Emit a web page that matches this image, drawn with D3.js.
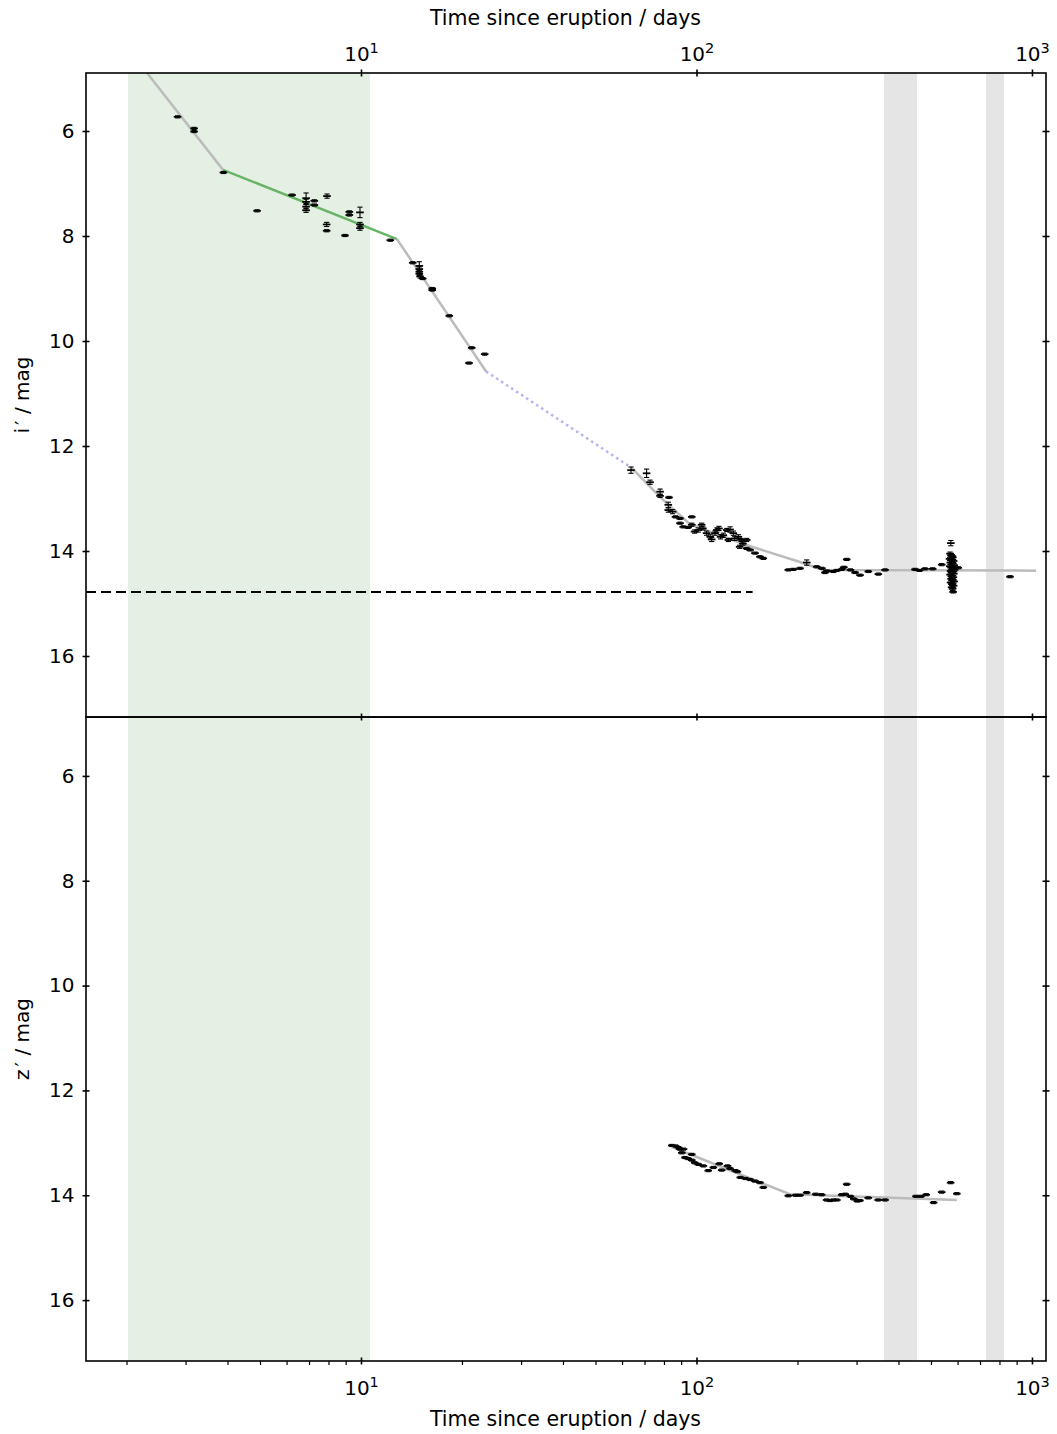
<!DOCTYPE html>
<html>
<head>
<meta charset="utf-8">
<script src="https://cdn.jsdelivr.net/npm/d3@7"></script>
<style>
  html, body { margin: 0; padding: 0; background: #fff; }
  svg { display: block; font-family: "DejaVu Sans", sans-serif; }
</style>
</head>
<body>
<svg id="chart" width="1057" height="1434"></svg>
<script>
// ---- i' band photometry: time (days), magnitude, 1-sigma error ----
const iTime = [
  2.84, 3.18, 3.18, 3.89, 4.90, 6.23, 6.86, 6.86, 6.86, 6.86, 7.26, 7.26, 7.92, 7.90, 7.90,
  8.96, 9.23, 9.23, 9.93, 9.93, 9.93, 12.23, 14.26, 14.92, 14.92, 14.92, 14.92, 15.00, 15.27,
  16.31, 16.31, 18.33, 21.38, 23.37, 20.99,
  63.8, 71.0, 72.7, 77.9, 77.9, 82.8, 82.4, 82.4, 84.9, 86.6, 89.3, 89.3, 91.3, 94.4, 96.8,
  96.8, 98.7, 101.2, 103.6, 104.5, 107.2, 109.9, 111.0, 113.5, 115.0, 116.7, 118.0, 120.2,
  123.1, 124.5, 125.9, 128.8, 130.0, 133.3, 134.5, 135.9, 137.5, 141.1, 141.1, 144.4, 149.4,
  154.6, 158.2, 187.8, 194.3, 203.5, 213.1, 228.2, 236.5, 241.5, 245.0, 255.7, 262.0, 270.9,
  275.0, 280.4, 287.6, 296.9, 307.2, 325.2, 348.4, 364.7, 448.0, 462.0, 479.8, 505.8, 538.0,
  573, 570, 574, 578, 581, 568, 576, 584, 571, 579, 586, 569, 575, 582, 588, 572, 578, 585,
  570, 576, 583, 574, 580, 586, 572, 578, 584, 576, 580, 582,
  603, 860
];
const iMag = [
  5.73, 5.95, 6.01, 6.79, 7.52, 7.22, 7.28, 7.35, 7.44, 7.51, 7.33, 7.41, 7.24, 7.78, 7.90,
  7.99, 7.54, 7.60, 7.55, 7.78, 7.85, 8.08, 8.51, 8.57, 8.63, 8.68, 8.72, 8.77, 8.81,
  9.00, 9.03, 9.52, 10.13, 10.25, 10.42,
  12.46, 12.52, 12.69, 12.87, 12.95, 12.98, 13.12, 13.22, 13.25, 13.35, 13.38, 13.47, 13.54, 13.55, 13.35,
  13.50, 13.63, 13.60, 13.50, 13.57, 13.66, 13.73, 13.78, 13.66, 13.60, 13.57, 13.73, 13.70,
  13.60, 13.79, 13.59, 13.66, 13.76, 13.73, 13.92, 13.79, 13.86, 13.79, 13.95, 13.98, 14.04,
  14.11, 14.14, 14.36, 14.35, 14.33, 14.22, 14.30, 14.33, 14.41, 14.38, 14.39, 14.37, 14.35,
  14.31, 14.16, 14.36, 14.41, 14.46, 14.39, 14.44, 14.36, 14.35, 14.37, 14.34, 14.34, 14.26,
  13.85, 14.05, 14.08, 14.10, 14.12, 14.15, 14.17, 14.19, 14.22, 14.24, 14.27, 14.29, 14.31, 14.33, 14.36, 14.38, 14.40, 14.43,
  14.45, 14.48, 14.50, 14.53, 14.55, 14.58, 14.60, 14.63, 14.66, 14.69, 14.72, 14.78,
  14.32, 14.49
];
const iErr = [
  0.02, 0.02, 0.02, 0.02, 0.02, 0.02, 0.10, 0.05, 0.04, 0.04, 0.02, 0.02, 0.04, 0.04, 0.02,
  0.02, 0.02, 0.02, 0.10, 0.04, 0.04, 0.02, 0.02, 0.08, 0.04, 0.04, 0.03, 0.03, 0.02,
  0.02, 0.02, 0.02, 0.02, 0.02, 0.02,
  0.06, 0.08, 0.04, 0.05, 0.03, 0.02, 0.05, 0.04, 0.04, 0.02, 0.02, 0.02, 0.02, 0.02, 0.02,
  0.03, 0.03, 0.04, 0.03, 0.03, 0.04, 0.04, 0.04, 0.04, 0.04, 0.04, 0.04, 0.04,
  0.03, 0.03, 0.05, 0.04, 0.04, 0.04, 0.03, 0.03, 0.03, 0.03, 0.02, 0.02, 0.02,
  0.02, 0.02, 0.02, 0.02, 0.02, 0.05, 0.02, 0.02, 0.02, 0.02, 0.02, 0.02, 0.02,
  0.02, 0.02, 0.02, 0.02, 0.02, 0.02, 0.02, 0.02, 0.02, 0.02, 0.02, 0.02, 0.02,
  0.05, 0.03, 0.03, 0.03, 0.03, 0.03, 0.03, 0.03, 0.03, 0.03, 0.03, 0.03, 0.03, 0.03, 0.03, 0.03, 0.03, 0.03,
  0.03, 0.03, 0.03, 0.03, 0.03, 0.03, 0.03, 0.03, 0.03, 0.03, 0.03, 0.02,
  0.02, 0.02
];

// ---- z' band photometry ----
const zTime = [
  84.4, 86.6, 88.3, 89.3, 90.4, 91.5, 92.4, 94.4, 96.8, 96.8, 98.8, 101.2, 104.8, 108.4, 112.3,
  116.9, 118.9, 123.7, 125.9, 130.5, 132.4, 135.1, 140.0, 144.4, 149.4, 154.6, 158.2,
  187.8, 197.5, 203.5, 213.0, 226.7, 236.0, 244.3, 250.0, 255.7, 262.0, 270.9, 277.5, 280.4,
  287.6, 294.4, 301.6, 307.0, 325.0, 348.0, 364.7, 451.0, 467.0, 484.0, 509.0, 538.0, 572.0, 597.0
];
const zMag = [
  13.05, 13.06, 13.09, 13.12, 13.19, 13.12, 13.28, 13.30, 13.22, 13.33, 13.38, 13.41, 13.44, 13.53, 13.47,
  13.40, 13.52, 13.44, 13.49, 13.53, 13.55, 13.66, 13.68, 13.70, 13.73, 13.76, 13.85,
  14.01, 14.00, 14.00, 13.95, 13.98, 13.99, 14.09, 14.10, 14.09, 14.09, 13.99, 13.98, 13.79,
  14.02, 14.07, 14.11, 14.10, 14.05, 14.09, 14.09, 14.02, 14.02, 13.99, 14.14, 13.94, 13.76, 13.97
];
const zErr = zMag.map(() => 0.02);

// ---- Piecewise model light curves (time in days, magnitude) ----
const iEarlyTime = [2.02, 3.88];          const iEarlyMag = [4.43, 6.74];
const iPlateauTime = [3.88, 12.8];        const iPlateauMag = [6.74, 8.06];
const iDeclineTime = [12.8, 23.6];        const iDeclineMag = [8.06, 10.58];
const iGapTime = [23.6, 64.2];            const iGapMag = [10.58, 12.42];
const iLateTime = [64.2, 77.8, 95.6, 141.4, 203.5, 238.2, 1028];
const iLateMag = [12.42, 12.97, 13.49, 13.89, 14.21, 14.36, 14.375];
const zLateTime = [84.4, 190, 597];       const zLateMag = [13.08, 13.98, 14.09];

// Shaded intervals (days) and reference level
const plateauSpan = [2.02, 10.64];
const gapSpans = [[362, 454], [729, 825]];
const quiescentLevel = 14.78;
const quiescentEnd = 147;

// x tick values
const xMajor = [10, 100, 1000];
const xMinor = [2,3,4,5,6,7,8,9, 20,30,40,50,60,70,80,90, 200,300,400,500,600,700,800,900];
const yTicks = [6, 8, 10, 12, 14, 16];

// ---- Layout ----
const L = 86, R = 1046;
const topPanel = { y0: 73, y1: 717 };
const botPanel = { y0: 717, y1: 1361 };
const FONT = 20;

const svg = d3.select("#chart");
const x = d3.scaleLog().domain([1.5147, 1101]).range([L, R]);
const yTop = d3.scaleLinear().domain([4.895, 17.162]).range([topPanel.y0, topPanel.y1]);
const yBot = d3.scaleLinear().domain([4.876, 17.162]).range([botPanel.y0, botPanel.y1]);

const defs = svg.append("defs");
function clip(id, p) {
  defs.append("clipPath").attr("id", id)
    .append("rect").attr("x", L).attr("y", p.y0).attr("width", R - L).attr("height", p.y1 - p.y0);
}
clip("clipTop", topPanel);
clip("clipBot", botPanel);

const line = (y) => d3.line().x(d => x(d[0])).y(d => y(d[1]));
const zip = (a, b) => a.map((v, i) => [v, b[i]]);

function panel(p, y, clipId) {
  const g = svg.append("g").attr("clip-path", `url(#${clipId})`);
  // plateau shading
  g.append("rect")
    .attr("x", x(plateauSpan[0])).attr("width", x(plateauSpan[1]) - x(plateauSpan[0]))
    .attr("y", p.y0).attr("height", p.y1 - p.y0).attr("fill", "#e4f0e3");
  // observing gaps
  g.selectAll("rect.gap").data(gapSpans).join("rect").attr("class", "gap")
    .attr("x", d => x(d[0])).attr("width", d => x(d[1]) - x(d[0]))
    .attr("y", p.y0).attr("height", p.y1 - p.y0).attr("fill", "#e5e5e5");
  return g;
}

function drawPoints(g, t, m, e, y) {
  const data = t.map((v, i) => ({ t: v, m: m[i], e: e[i] }));
  const pts = g.append("g").selectAll("g").data(data).join("g");
  pts.append("line")
    .attr("x1", d => x(d.t)).attr("x2", d => x(d.t))
    .attr("y1", d => y(d.m - d.e)).attr("y2", d => y(d.m + d.e))
    .attr("stroke", "#000").attr("stroke-width", 1.1);
  [-1, 1].forEach(s => {
    pts.append("line")
      .attr("x1", d => x(d.t) - 2.6).attr("x2", d => x(d.t) + 2.6)
      .attr("y1", d => y(d.m + s * d.e)).attr("y2", d => y(d.m + s * d.e))
      .attr("stroke", "#000").attr("stroke-width", 1.1);
  });
  pts.append("line")
    .attr("x1", d => x(d.t) - 3.8).attr("x2", d => x(d.t) + 3.8)
    .attr("y1", d => y(d.m)).attr("y2", d => y(d.m))
    .attr("stroke", "#000").attr("stroke-width", 1.8);
}

// ---- Top panel (i') ----
const gTop = panel(topPanel, yTop, "clipTop");
const grey = "#bcbcbc", lw = 2.5;
gTop.append("path").datum(zip(iEarlyTime, iEarlyMag)).attr("d", line(yTop))
  .attr("fill", "none").attr("stroke", grey).attr("stroke-width", lw);
gTop.append("path").datum(zip(iPlateauTime, iPlateauMag)).attr("d", line(yTop))
  .attr("fill", "none").attr("stroke", "#67b467").attr("stroke-width", lw);
gTop.append("path").datum(zip(iDeclineTime, iDeclineMag)).attr("d", line(yTop))
  .attr("fill", "none").attr("stroke", grey).attr("stroke-width", lw);
gTop.append("path").datum(zip(iGapTime, iGapMag)).attr("d", line(yTop))
  .attr("fill", "none").attr("stroke", "#b4b4f2").attr("stroke-width", lw)
  .attr("stroke-dasharray", "2.5,3.5");
gTop.append("path").datum(zip(iLateTime, iLateMag)).attr("d", line(yTop))
  .attr("fill", "none").attr("stroke", grey).attr("stroke-width", lw);
gTop.append("line")
  .attr("x1", L).attr("x2", x(quiescentEnd))
  .attr("y1", yTop(quiescentLevel)).attr("y2", yTop(quiescentLevel))
  .attr("stroke", "#000").attr("stroke-width", 2).attr("stroke-dasharray", "10,5");
drawPoints(gTop, iTime, iMag, iErr, yTop);

// ---- Bottom panel (z') ----
const gBot = panel(botPanel, yBot, "clipBot");
gBot.append("path").datum(zip(zLateTime, zLateMag)).attr("d", line(yBot))
  .attr("fill", "none").attr("stroke", grey).attr("stroke-width", lw);
drawPoints(gBot, zTime, zMag, zErr, yBot);

// ---- Axes ----
const TL = 3.5;
function styleAxis(sel) {
  sel.select(".domain").remove();
  sel.selectAll(".tick line").attr("stroke", "#000").attr("stroke-width", 1.6);
  sel.selectAll(".tick text").attr("font-size", FONT).attr("fill", "#000")
    .attr("font-family", "DejaVu Sans, sans-serif");
}
function powLabels(sel, dy) {
  sel.selectAll(".tick text").each(function (d) {
    const t = d3.select(this).text("");
    t.attr("dy", dy);
    t.append("tspan").text("10");
    t.append("tspan").attr("font-size", 14.5).attr("dy", "-0.55em").text(Math.round(Math.log10(d)));
  });
}

function yAxes(y) {
  const l1 = svg.append("g").attr("transform", `translate(${L},0)`)
    .call(d3.axisLeft(y).tickValues(yTicks).tickSize(TL).tickPadding(8).tickFormat(d3.format("d")));
  styleAxis(l1);
  const l2 = svg.append("g").attr("transform", `translate(${L},0)`)
    .call(d3.axisRight(y).tickValues(yTicks).tickSize(TL).tickFormat(""));
  styleAxis(l2);
  ["axisLeft", "axisRight"].forEach(fn => {
    const a = svg.append("g").attr("transform", `translate(${R},0)`)
      .call(d3[fn](y).tickValues(yTicks).tickSize(TL).tickFormat(""));
    styleAxis(a);
  });
}
yAxes(yTop);
yAxes(yBot);

// top x axis (labels above)
const xt1 = svg.append("g").attr("transform", `translate(0,${topPanel.y0})`)
  .call(d3.axisTop(x).tickValues(xMajor).tickSize(TL).tickPadding(9));
styleAxis(xt1); powLabels(xt1, "0em");
const xt2 = svg.append("g").attr("transform", `translate(0,${topPanel.y0})`)
  .call(d3.axisBottom(x).tickValues(xMajor).tickSize(TL).tickFormat(""));
styleAxis(xt2);
// shared boundary
["axisTop", "axisBottom"].forEach(fn => {
  const a = svg.append("g").attr("transform", `translate(0,${topPanel.y1})`)
    .call(d3[fn](x).tickValues(xMajor).tickSize(TL).tickFormat(""));
  styleAxis(a);
});
// bottom x axis
const xb1 = svg.append("g").attr("transform", `translate(0,${botPanel.y1})`)
  .call(d3.axisBottom(x).tickValues(xMajor).tickSize(TL).tickPadding(12));
styleAxis(xb1); powLabels(xb1, "0.9em");
const xb2 = svg.append("g").attr("transform", `translate(0,${botPanel.y1})`)
  .call(d3.axisTop(x).tickValues(xMajor).tickSize(TL).tickFormat(""));
styleAxis(xb2);
const xb3 = svg.append("g").attr("transform", `translate(0,${botPanel.y1})`)
  .call(d3.axisBottom(x).tickValues(xMinor.filter(v => x(v) > L)).tickSize(4).tickFormat(""));
styleAxis(xb3);
xb3.selectAll(".tick line").attr("stroke-width", 1.2);

// frames
[topPanel, botPanel].forEach(p => {
  svg.append("rect").attr("x", L).attr("y", p.y0).attr("width", R - L).attr("height", p.y1 - p.y0)
    .attr("fill", "none").attr("stroke", "#000").attr("stroke-width", 1.6);
});

// axis titles
const TITLE = 20.5;
svg.append("text").attr("x", (L + R) / 2 - 0.5).attr("y", 25).attr("text-anchor", "middle")
  .attr("font-size", TITLE).text("Time since eruption / days");
svg.append("text").attr("x", (L + R) / 2 - 0.5).attr("y", 1426).attr("text-anchor", "middle")
  .attr("font-size", TITLE).text("Time since eruption / days");
function yTitle(cy, band) {
  const t = svg.append("text").attr("transform", `translate(29,${cy}) rotate(-90)`)
    .attr("text-anchor", "middle").attr("font-size", FONT);
  t.append("tspan").text(band);
  t.append("tspan").attr("dx", 3).text("\u2032");
  t.append("tspan").text(" / mag");
}
yTitle((topPanel.y0 + topPanel.y1) / 2, "i");
yTitle((botPanel.y0 + botPanel.y1) / 2, "z");
</script>
</body>
</html>
